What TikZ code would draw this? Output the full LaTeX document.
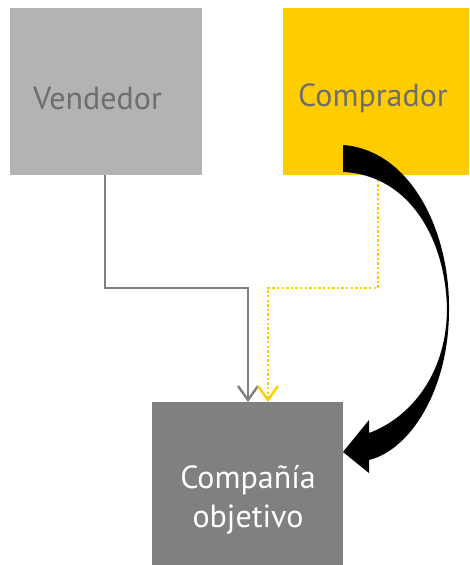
\documentclass[tikz,border=0pt]{standalone}
\usepackage{fontspec}
\setmainfont{PT Sans}
\usetikzlibrary{arrows.meta}
\definecolor{boxlight}{HTML}{B3B3B3}
\definecolor{boxgold}{HTML}{FFCC00}
\definecolor{boxdark}{HTML}{808080}
\definecolor{txtgray}{HTML}{6E6E6E}
\tikzset{
  box/.style={inner sep=0pt, outer sep=0pt},
  lbl/.style={inner sep=0pt, font=\fontsize{32}{39}\selectfont, align=center},
  grayline/.style={draw=boxdark, line width=2.4pt, -{Straight Barb[length=14pt,width=20pt,line width=2.4pt]}},
  goldline/.style={draw=boxgold, line width=2.4pt, dash pattern=on 2.4pt off 2.2pt, -{Straight Barb[length=14pt,width=20pt,line width=2.4pt]}},
}
\begin{document}
\begin{tikzpicture}[x=1pt,y=-1pt]
\useasboundingbox (0,0) rectangle (469,565);
\node[box, fill=boxlight, minimum width=192pt, minimum height=167pt] (v) at (106,91.5) {};
\node[box, fill=boxgold, minimum width=186pt, minimum height=167pt] (c) at (376,91.5) {};
\node[box, fill=boxdark, minimum width=191pt, minimum height=163pt] (t) at (247.5,483.5) {};
\node[lbl, text=txtgray] (vt) at (97.5,98) {Vendedor};
\node[lbl, text=txtgray] (ct) at (373,98) {Comprador};
\node[lbl, text=white] (tt) at (248,500) {Compañía\\objetivo};
\coordinate (vb) at (105,175);
\coordinate (cb) at (378,175);
\coordinate (gx) at (248,288);
\coordinate (yx) at (268,288);
\coordinate (tip) at (343,452);
\draw[grayline] (vb) |- (gx) -- (gx |- t.north);
\draw[goldline] (cb) |- (yx) -- (yx |- t.north);
\fill[black] (343,145) .. controls (410,150) and (450,230) .. (449,310)
  .. controls (449,390) and (410,450) .. (369,460) -- (369,473) -- (tip) -- (369,420) -- (369,433)
  .. controls (405,420) and (446,380) .. (447,310)
  .. controls (446,240) and (410,175) .. (343,172) -- cycle;
\end{tikzpicture}
\end{document}
